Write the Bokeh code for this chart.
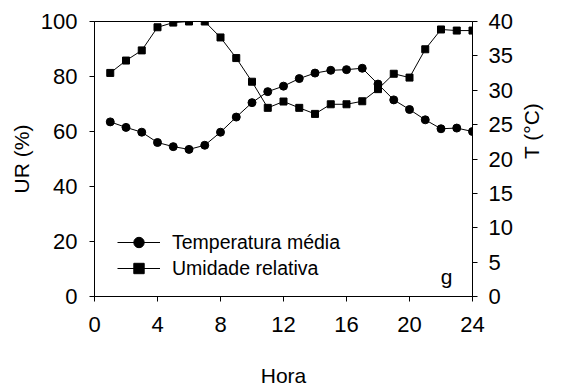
import math
from bokeh.plotting import figure
from bokeh.models import Range1d, LinearAxis, FixedTicker, Label
from bokeh.embed import file_html
from bokeh.resources import INLINE

# ---- data ----
hora = list(range(1, 25))
umidade = [81.3, 85.8, 89.5, 97.9, 99.6, 100.0, 100.0, 94.2, 86.7, 78.1, 68.6, 70.9,
           68.6, 66.4, 69.9, 69.9, 71.0, 75.4, 81.0, 79.6, 89.9, 97.1, 96.7, 96.7]
temperatura = [25.4, 24.6, 23.9, 22.4, 21.8, 21.4, 22.0, 23.9, 26.1, 28.2, 29.8, 30.6,
               31.7, 32.5, 32.9, 33.0, 33.2, 30.9, 28.6, 27.2, 25.7, 24.4, 24.5, 24.0]
x_ticks = [0, 4, 8, 12, 16, 20, 24]
ur_ticks = [0, 20, 40, 60, 80, 100]
t_ticks = [0, 5, 10, 15, 20, 25, 30, 35, 40]

FONT = "Liberation Sans"
TICK_FS = "22px"
LAB_FS = "21px"

p = figure(frame_width=378, frame_height=275,
           output_backend="svg", toolbar_location=None,
           x_range=Range1d(0, 24), y_range=Range1d(0, 100),
           min_border_left=94, min_border_right=89,
           min_border_top=21, min_border_bottom=96,
           background_fill_color="white", border_fill_color="white")
p.extra_y_ranges = {"T": Range1d(0, 40)}

p.xgrid.visible = False
p.ygrid.visible = False
p.outline_line_color = "black"
p.outline_line_width = 1


def style_axis(ax):
    ax.axis_line_color = "black"
    ax.axis_line_width = 1
    ax.major_tick_line_color = "black"
    ax.major_tick_out = 5
    ax.major_tick_in = 0
    ax.minor_tick_line_color = None
    ax.major_label_text_font = FONT
    ax.major_label_text_font_size = TICK_FS
    ax.major_label_text_color = "black"
    ax.axis_label_text_font = FONT
    ax.axis_label_text_font_size = LAB_FS
    ax.axis_label_text_font_style = "normal"
    ax.axis_label_text_color = "black"


xa = p.xaxis[0]
style_axis(xa)
xa.ticker = FixedTicker(ticks=x_ticks)
xa.axis_label = "Hora"
xa.major_label_standoff = 15
xa.axis_label_standoff = 29

ya = p.yaxis[0]
style_axis(ya)
ya.ticker = FixedTicker(ticks=ur_ticks)
ya.axis_label = "UR (%)"
ya.major_label_standoff = 12
ya.axis_label_standoff = 5

ra = LinearAxis(y_range_name="T", ticker=FixedTicker(ticks=t_ticks), axis_label="T (°C)")
style_axis(ra)
ra.major_label_standoff = 11
ra.axis_label_standoff = 16
if "axis_label_orientation" in ra.properties():
    ra.axis_label_orientation = math.pi / 2
p.add_layout(ra, "right")

# series
p.line(hora, temperatura, y_range_name="T", line_color="black", line_width=1,
       legend_label="Temperatura média")
p.scatter(hora, temperatura, y_range_name="T", marker="circle", size=8,
          fill_color="black", line_color="black", legend_label="Temperatura média")
p.line(hora, umidade, line_color="black", line_width=1, legend_label="Umidade relativa")
p.scatter(hora, umidade, marker="square", size=7, fill_color="black",
          line_color="black", legend_label="Umidade relativa")

lg = p.legend[0]
lg.location = (23, 15)
lg.background_fill_alpha = 0
lg.border_line_color = None
lg.margin = 0
lg.padding = 0
lg.spacing = 0
lg.glyph_width = 43
lg.glyph_height = 26
lg.label_height = 26
lg.label_standoff = 12
lg.label_text_font = FONT
lg.label_text_font_size = "19.5px"
lg.label_text_color = "black"
lg.label_text_baseline = "middle"

p.add_layout(Label(x=22.35, y=7.3, text="g", text_font=FONT, text_font_size="21px",
                   text_align="center", text_baseline="alphabetic", text_color="black"))

open("out.html", "w").write(file_html(p, INLINE))
